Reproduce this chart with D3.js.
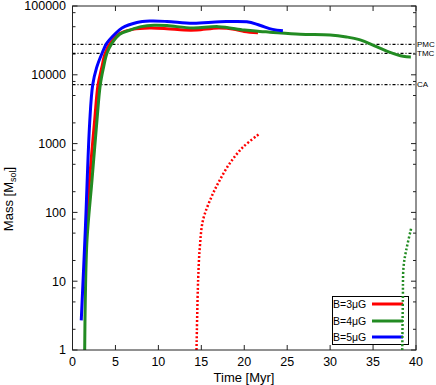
<!DOCTYPE html>
<html><head><meta charset="utf-8">
<script src="https://cdn.jsdelivr.net/npm/d3@7"></script>
<style>body{margin:0;background:#fff}svg{display:block}text{font-family:"Liberation Sans",Arial,sans-serif}</style>
</head><body><svg id="c" width="436" height="385"></svg>
<script>
const xTicks = [0,5,10,15,20,25,30,35,40];
const yTicks = [1,10,100,1000,10000,100000];
const refNames = ["PMC","TMC","CA"];
const refValues = [27700,20500,7180];

const blueT = [1.02,1.49,2.0,2.35,2.8,3.43,4.0,5.0,5.76,7.5,9,11,14,17.2,20.3,21.8,23.3,24.5];
const blueM = [2.7,55,2000,7100,12600,20400,28800,39800,47900,57500,60300,59600,56200,58900,58900,52500,45700,43600];
const redT = [1.45,1.62,2.0,2.58,2.97,3.4,3.8,4.4,5.5,7,9,11,13,14.5,17,19,20,21.6];
const redM = [16,63,316,2200,7100,12600,20400,28800,39800,45700,47900,46800,44700,44700,47900,45700,42700,40700];
const greenT = [1.42,1.49,1.69,2.27,2.85,3.23,3.6,4.0,4.6,5.5,6.7,8,9.5,11,14,17,20,21.8,23,26.5,30,31.9,33.4,35.4,36.9,38.5,39.4];
const greenM = [1,5.4,40,295,2200,7100,12600,20400,28800,38900,44700,50100,52500,51900,47900,50100,44700,42700,41700,38900,38000,35500,32400,25700,21400,18600,18200];
const redDotT = [14.44,14.63,14.83,15.2,16.2,17.15,18.3,19.86,21.7];
const redDotM = [1,10.5,31.6,77.6,170,295,513,891,1365];
const greenDotT = [38.4,38.47,38.55,38.86,39.44];
const greenDotM = [1,5.4,16.2,28.2,59];
const legendLabels = ["B=3\u03bcG","B=4\u03bcG","B=5\u03bcG"];
const colors = {red:"#ff0000", green:"#228b22", blue:"#0000ff"};

const L=72.5, R=416, T=6, B=350;
const svg = d3.select("#c");
const x = d3.scaleLinear().domain([0,40]).range([L,R]);
const y = d3.scaleLog().domain([1,100000]).range([B,T]);

const minor = [];
for (let d=1; d<100000; d*=10) for (const m of [2,5,8]) minor.push(d*m);

const g = svg.append("g");
const tickCol = "#222";
yTicks.forEach(v=>{
  g.append("line").attr("x1",L).attr("x2",L+5).attr("y1",y(v)).attr("y2",y(v)).attr("stroke",tickCol);
  g.append("line").attr("x1",R).attr("x2",R-5).attr("y1",y(v)).attr("y2",y(v)).attr("stroke",tickCol);
  g.append("text").attr("x",66).attr("y",y(v)).attr("dy","0.35em").attr("text-anchor","end").attr("font-size",12.5).text(v);
});
minor.forEach(v=>{
  g.append("line").attr("x1",L).attr("x2",L+3).attr("y1",y(v)).attr("y2",y(v)).attr("stroke",tickCol);
  g.append("line").attr("x1",R).attr("x2",R-3).attr("y1",y(v)).attr("y2",y(v)).attr("stroke",tickCol);
});
xTicks.forEach(v=>{
  g.append("line").attr("x1",x(v)).attr("x2",x(v)).attr("y1",B).attr("y2",B-5).attr("stroke",tickCol);
  g.append("line").attr("x1",x(v)).attr("x2",x(v)).attr("y1",T).attr("y2",T+5).attr("stroke",tickCol);
  g.append("text").attr("x",x(v)).attr("y",366).attr("text-anchor","middle").attr("font-size",12.5).text(v);
});

refValues.forEach((v,i)=>{
  g.append("line").attr("x1",L).attr("x2",R).attr("y1",y(v)).attr("y2",y(v))
   .attr("stroke","#000").attr("stroke-width",1.2).attr("stroke-dasharray","3,2,1,2");
  g.append("text").attr("x",R+1).attr("y",y(v)).attr("dy","0.35em").attr("font-size",8).text(refNames[i]);
});

svg.append("clipPath").attr("id","pc").append("rect").attr("x",L).attr("y",T).attr("width",R-L).attr("height",B-T);
const line = d3.line().x(d=>x(d[0])).y(d=>y(d[1])).curve(d3.curveCatmullRom.alpha(0.5));
const plot = svg.append("g").attr("clip-path","url(#pc)");
function draw(ts, ms, col, dotted, parent){
  const data = ts.map((t,i)=>[t,ms[i]]);
  (parent||plot).append("path").attr("d",line(data)).attr("fill","none").attr("stroke",col)
    .attr("stroke-width",dotted?2.5:3).attr("stroke-dasharray",dotted?"2,2":null);
}
draw(redT, redM, colors.red, false);
draw(greenT, greenM, colors.green, false);
draw(blueT, blueM, colors.blue, false);
draw(redDotT, redDotM, colors.red, true);

svg.append("rect").attr("x",L).attr("y",T).attr("width",R-L).attr("height",B-T).attr("fill","none").attr("stroke","#222");

svg.append("text").attr("x",244).attr("y",382).attr("text-anchor","middle").attr("font-size",13).text("Time [Myr]");
const yl = svg.append("text").attr("transform","translate(13,199) rotate(-90)").attr("text-anchor","middle").attr("font-size",13);
yl.append("tspan").text("Mass [M");
yl.append("tspan").attr("font-size",9).attr("dy",3).text("sol");
yl.append("tspan").attr("dy",-3).text("]");

const lg = svg.append("g");
lg.append("rect").attr("x",332.5).attr("y",296.5).attr("width",76).attr("height",48).attr("fill","#fff").attr("stroke","#000");
const lc = [colors.red, colors.green, colors.blue];
const ly = [304,321,337];
legendLabels.forEach((t,i)=>{
  lg.append("text").attr("x",333).attr("y",ly[i]).attr("dy","0.35em").attr("font-size",10.5).text(t);
  lg.append("line").attr("x1",372).attr("x2",403).attr("y1",ly[i]).attr("y2",ly[i]).attr("stroke",lc[i]).attr("stroke-width",3);
});
const overLayer = svg.append("g").attr("clip-path","url(#pc)");
draw(greenDotT, greenDotM, colors.green, true, overLayer);
</script></body></html>
